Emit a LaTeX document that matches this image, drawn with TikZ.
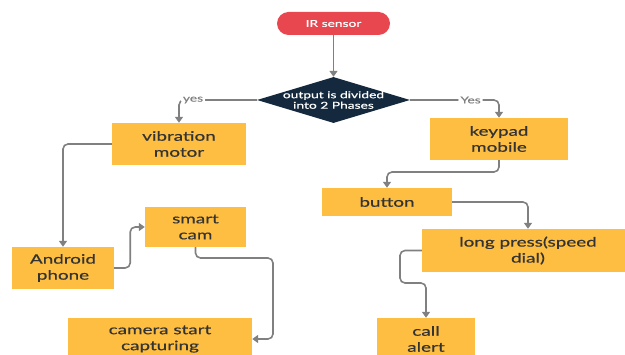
\documentclass[tikz,border=0pt]{standalone}
\usepackage{fontspec}
\setmainfont{Lato}[FakeStretch=1.45, FakeBold=0.5]
\usetikzlibrary{arrows.meta,shapes.geometric}
\definecolor{boxyellow}{HTML}{FDBE41}
\definecolor{pillred}{HTML}{E8474F}
\definecolor{navy}{HTML}{14293D}
\definecolor{linegray}{HTML}{808080}
\definecolor{txtgray}{HTML}{333333}
\tikzset{
  stepbox/.style={rectangle, fill=boxyellow, inner sep=0pt, align=center,
    text=txtgray, font=\fontsize{13}{16}\selectfont},
  conn/.style={draw=linegray, line width=1.6pt, rounded corners=5pt,
    -{Triangle[width=8pt,length=6pt]}},
  yeslabel/.style={fill=white, text=linegray, inner sep=2pt, font=\fontsize{9.5}{11}\selectfont}
}
\begin{document}
\begin{tikzpicture}[x=1pt,y=-1pt]
\useasboundingbox (0,0) rectangle (625,355);
\clip (0,0) rectangle (625,355);
% start
\node[rectangle, rounded corners=11.5pt, fill=pillred, minimum width=113pt, minimum height=23pt,
  inner sep=0pt, text=white, font=\fontsize{9.5}{11}\selectfont] (ir) at (333.5,23.5) {IR sensor};
% decision
\node[diamond, fill=navy, minimum width=153pt, minimum height=46pt, inner sep=0pt,
  label={[text=white, align=center, font=\fontsize{9.5}{10.5}\selectfont]center:output is divided\\into 2 Phases}] (dia) at (333.5,100) {};
% boxes
\node[stepbox, minimum width=134pt, minimum height=42pt] (vib) at (179,144) {vibration\\motor};
\node[stepbox, minimum width=138pt, minimum height=42pt] (key) at (499,139) {keypad\\mobile};
\node[stepbox, minimum width=102pt, minimum height=42pt] (and) at (63,268) {Android\\phone};
\node[stepbox, minimum width=101pt, minimum height=40pt] (cam) at (195.5,227) {smart\\cam};
\node[stepbox, minimum width=184pt, minimum height=42pt] (capt) at (160,339) {camera start\\capturing};
\node[stepbox, minimum width=130pt, minimum height=28pt] (btn) at (387,202) {button};
\node[stepbox, minimum width=212pt, minimum height=43pt] (long) at (528,250.5) {long press(speed\\dial)};
\node[stepbox, minimum width=98pt, minimum height=42pt] (call) at (426,339) {call\\alert};
% helper coordinates
\coordinate (c1) at (273,258);
\coordinate (c2) at (440,172);
\coordinate (c3) at (400,283);
% connectors
\draw[conn] (ir.south) -- (dia.north);
\draw[conn] (dia.west) -| node[yeslabel, pos=0.41] {yes} (vib.north);
\draw[conn] (dia.east) -| node[yeslabel, pos=0.34] {Yes} (key.north);
\draw[conn] (vib.west) -| (and.north);
\draw[conn] (and.east) -- ++(16,0) |- (cam.west);
\draw[conn] (cam.south) |- (c1) |- (capt.east);
\draw[conn] (key.south) |- (c2) -| (btn.north);
\draw[conn] (btn.east) -| (long.north);
\draw[conn] (long.west) -| (c3) -| (call.north);
\end{tikzpicture}
\end{document}
